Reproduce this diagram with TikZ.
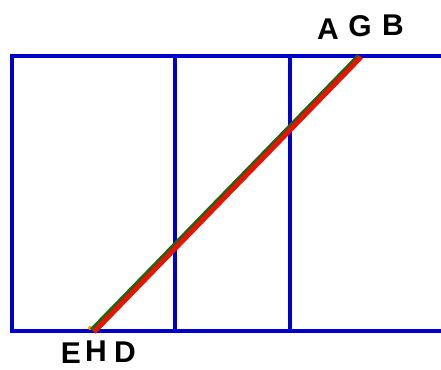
\documentclass[tikz,border=0pt]{standalone}
\usepackage{fontspec}
\setmainfont{Liberation Sans}
\definecolor{gridblue}{RGB}{0,0,204}
\definecolor{lgreen}{RGB}{30,100,20}
\definecolor{lred}{RGB}{230,20,0}
\begin{document}
\begin{tikzpicture}[x=1pt,y=-1pt,
  grid/.style={draw=gridblue,line width=3.2pt},
  lab/.style={font=\fontsize{30}{30}\selectfont\bfseries,inner sep=0pt,anchor=center}]
\useasboundingbox (0,0) rectangle (441,369);
\coordinate (TL) at (12,56);
\coordinate (TR) at (441,56);
\coordinate (BL) at (12,331);
\coordinate (BR) at (441,331);
\coordinate (V1t) at (175,56);
\coordinate (V1b) at (175,331);
\coordinate (V2t) at (290,56);
\coordinate (V2b) at (290,331);
\draw[grid] (TR) -- (TL) -- (BL) -- (BR);
\draw[grid] (V1t) -- (V1b);
\draw[grid] (V2t) -- (V2b);
\coordinate (Gt) at (359,56);
\coordinate (Gb) at (92,330);
\coordinate (Rt) at (361,57);
\coordinate (Rb) at (94,332);
\fill[orange!80!yellow] (90,328) circle (2pt);
\draw[lgreen,line width=5pt] (Gb) -- (Gt);
\draw[lred,line width=5pt] (Rb) -- (Rt);
\node[lab] (A) at (328,29) {A};
\node[lab] (G) at (360,26) {G};
\node[lab] (B) at (393,25) {B};
\node[lab] (E) at (71,353) {E};
\node[lab] (H) at (96,351) {H};
\node[lab] (D) at (125,352) {D};
\end{tikzpicture}
\end{document}
